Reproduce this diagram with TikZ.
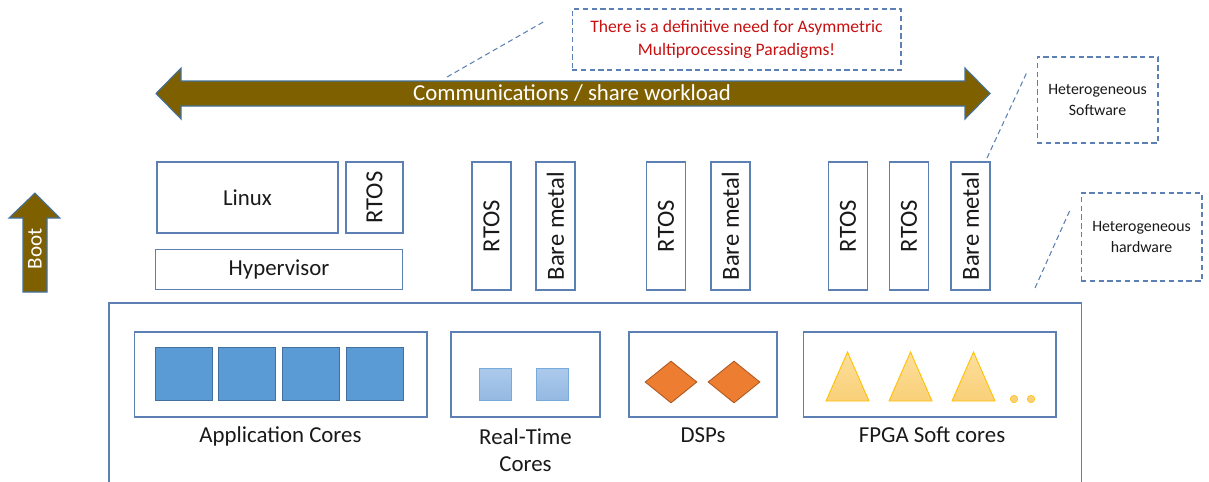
\documentclass[tikz,border=0pt]{standalone}
\usepackage{fontspec}
\setmainfont{Carlito}
\usepackage{tikz}
\usetikzlibrary{shapes, positioning}
\definecolor{boxBlue}{RGB}{92, 128, 180}
\definecolor{arrowEdge}{RGB}{65, 113, 156}
\definecolor{commBrown}{RGB}{127, 96, 0}
\definecolor{noteRed}{RGB}{200, 16, 16}
\definecolor{appBlue}{RGB}{91, 155, 213}
\definecolor{appEdge}{RGB}{65, 113, 156}
\definecolor{rtTop}{RGB}{172, 202, 236}
\definecolor{rtBottom}{RGB}{148, 185, 226}
\definecolor{rtEdge}{RGB}{120, 170, 220}
\definecolor{dspOrange}{RGB}{237, 125, 49}
\definecolor{dspEdge}{RGB}{174, 90, 33}
\definecolor{fpgaTop}{RGB}{252, 222, 156}
\definecolor{fpgaBottom}{RGB}{250, 208, 120}
\definecolor{fpgaEdge}{RGB}{255, 192, 0}
\definecolor{labelGray}{RGB}{25, 25, 25}

\begin{document}
\begin{tikzpicture}[x=0.02cm, y=-0.02cm,
				os_box/.style    = {draw=boxBlue, line width=0.6pt, rectangle, align=center,
					text=labelGray, font=\fontsize{13}{15.5}\selectfont},
				os_vert/.style   = {os_box, rotate=90, minimum width=2.56cm, minimum height=0.78cm,
					font=\fontsize{14}{16}\selectfont},
				hw_group/.style  = {draw=boxBlue, line width=0.6pt, rectangle, minimum height=1.7cm},
				hw_label/.style  = {align=center, text=labelGray, font=\fontsize{13}{15.5}\selectfont},
				core_app/.style  = {draw=appEdge, fill=appBlue, line width=0.5pt, rectangle,
					minimum width=1.14cm, minimum height=1.06cm, inner sep=0pt},
				core_rt/.style   = {draw=rtEdge, top color=rtTop, bottom color=rtBottom, line width=0.5pt,
					rectangle, minimum size=0.64cm, inner sep=0pt},
				core_dsp/.style  = {draw=dspEdge, fill=dspOrange, line width=0.5pt, diamond,
					minimum width=1.04cm, minimum height=0.84cm, inner sep=0pt},
				core_fpga/.style = {draw=fpgaEdge, top color=fpgaTop, bottom color=fpgaBottom, line width=0.5pt},
				fpga_dot/.style  = {circle, fill=fpgaBottom, draw=fpgaEdge, line width=0.3pt,
					minimum size=0.15cm, inner sep=0pt},
				note_box/.style  = {draw=boxBlue, line width=0.6pt, dash pattern=on 3pt off 2pt,
					rectangle, align=center, text=labelGray, font=\fontsize{9}{11.5}\selectfont},
				note_link/.style = {draw=boxBlue, line width=0.6pt, dash pattern=on 3pt off 2pt},
				big_arrow/.style = {fill=commBrown, draw=arrowEdge, line width=0.6pt},
				arrow_text/.style= {text=white, font=\fontsize{13}{15.5}\selectfont}
				]
				\useasboundingbox (0,0) rectangle (1209,481);
				
				\draw[big_arrow] (156,93.5) -- (181,68) -- (181,81) -- (965,81) -- (965,68) -- (990,93.5)
				-- (965,119) -- (965,106) -- (181,106) -- (181,119) -- cycle;
				\node[arrow_text] (comm) at (572,93.5) {Communications / share workload};
				
				\draw[big_arrow] (35,193) -- (60,218) -- (47,218) -- (47,292) -- (23,292) -- (23,218)
				-- (9,218) -- cycle;
				\node[arrow_text, rotate=90, font=\fontsize{12}{14}\selectfont] (boot) at (35,249) {Boot};
				
				\node[note_box, minimum width=6.58cm, minimum height=1.22cm, text=noteRed,
				font=\fontsize{10}{13}\selectfont] (need) at (736.5,39.5)
				{There is a definitive need for Asymmetric\\Multiprocessing Paradigms!};
				\coordinate (need_a) at (447,77);
				\coordinate (need_b) at (545,21);
				\draw[note_link] (need_a) -- (need_b);
				
				\node[note_box, minimum width=2.42cm, minimum height=1.72cm] (het_sw) at (1097.5,100)
				{Heterogeneous\\Software};
				\coordinate (sw_a) at (987,158);
				\coordinate (sw_b) at (1027,72);
				\draw[note_link] (sw_a) -- (sw_b);
				
				\node[note_box, minimum width=2.42cm, minimum height=1.76cm] (het_hw) at (1141.5,237)
				{Heterogeneous\\hardware};
				\coordinate (hw_a) at (1035,288);
				\coordinate (hw_b) at (1070,210);
				\draw[note_link] (hw_a) -- (hw_b);
				
				\node[os_box, minimum width=3.62cm, minimum height=1.42cm] (linux) at (247.5,197.5) {Linux};
				\node[os_vert, minimum width=1.42cm, minimum height=1.14cm] (rtos_hv) at (374.5,197.5) {RTOS};
				\node[os_box, minimum width=4.94cm, minimum height=0.8cm] (hyper) at (279,269.5) {Hypervisor};
				
				\node[os_vert] (rtos_rt1) at (491.5,226) {RTOS};
				\node[os_vert] (bare_rt) at (555.5,226) {Bare metal};
				\node[os_vert] (rtos_dsp) at (666,226) {RTOS};
				\node[os_vert] (bare_dsp) at (730.5,226) {Bare metal};
				\node[os_vert] (rtos_fp1) at (848,226) {RTOS};
				\node[os_vert] (rtos_fp2) at (909,226) {RTOS};
				\node[os_vert] (bare_fp) at (970.5,226) {Bare metal};
				
				\draw[draw=boxBlue, line width=0.6pt] (109,482) |- (1081.5,303) -- (1081.5,482);
				
				\node[hw_group, minimum width=5.86cm] (app) at (280.5,374.5) {};
				\node[hw_group, minimum width=2.98cm] (rt) at (525.5,374.5) {};
				\node[hw_group, minimum width=2.96cm] (dsp) at (703,374.5) {};
				\node[hw_group, minimum width=5.06cm] (fpga) at (929.5,374.5) {};
				
				\foreach \cx [count=\i] in {183.5, 247, 311, 375}
				\node[core_app] (app\i) at (\cx,374) {};
				\foreach \cx [count=\i] in {495.5, 552}
				\node[core_rt] (rt\i) at (\cx,384) {};
				\foreach \cx [count=\i] in {671, 734}
				\node[core_dsp] (dsp\i) at (\cx,382) {};
				\foreach \cx in {847.5, 910.5, 973.5}
				\draw[core_fpga] (\cx-21.5,401) -- (\cx,352) -- (\cx+21.5,401) -- cycle;
				\node[fpga_dot] (dot1) at (1014,399) {};
				\node[fpga_dot] (dot2) at (1031,399) {};
				
				\node[hw_label] (app_lbl) at (280.5,436) {Application Cores};
				\node[hw_label] (rt_lbl) at (525.5,450) {Real-Time\\Cores};
				\node[hw_label] (dsp_lbl) at (703,435) {DSPs};
				\node[hw_label] (fpga_lbl) at (932,435) {FPGA Soft cores};
			\end{tikzpicture}
\end{document}
